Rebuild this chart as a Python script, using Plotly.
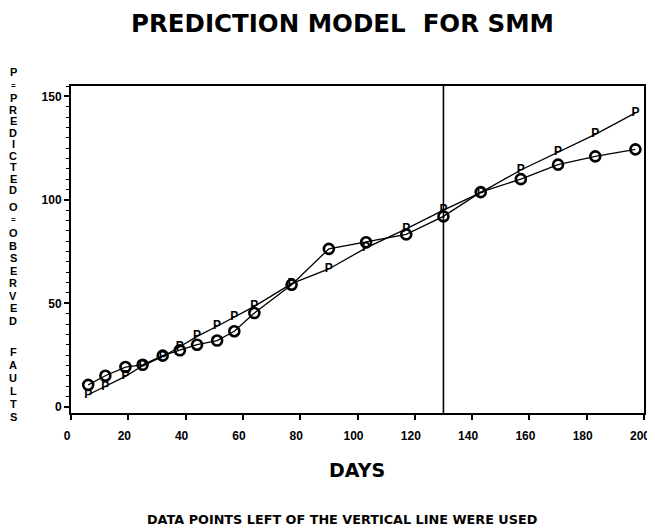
import plotly.graph_objects as go

# ---- data ----
days = [6, 12, 19, 25, 32, 38, 44, 51, 57, 64, 77, 90, 103, 117, 130, 143, 157, 170, 183, 197]
observed = [10.6, 15.0, 19.2, 20.3, 24.7, 27.3, 30.0, 32.0, 36.5, 45.3, 59.0, 76.3,
            79.5, 83.3, 92.0, 103.7, 110.0, 117.0, 121.0, 124.4]
predicted = [5.8, 9.8, 14.7, 19.8, 24.3, 29.0, 34.0, 38.9, 43.4, 48.5, 59.5, 66.6,
             76.8, 86.0, 95.0, 103.5, 114.4, 123.0, 131.6, 142.0]
cutoff_day = 130
x_ticks = list(range(0, 201, 20))
y_ticks = [0, 50, 100, 150]

title_text = "PREDICTION MODEL  FOR SMM"
x_title = "DAYS"
footnote = "DATA POINTS LEFT OF THE VERTICAL LINE WERE USED"
# stacked y-axis label: (text, page y of first letter, letter step)
ylabel_parts = [("P", 72, 0), ("=", 85, 0), ("PREDICTED", 98, 11.5),
                ("O", 207, 0), ("=", 220, 0), ("OBSERVED", 233, 12.5),
                ("FAULTS", 352, 13)]

# page is offset by the browser's default 8px body margin; visible width is 639px
OFF = 8
W, H = 639, 524
# plot frame in page pixels
PL, PR, PT, PB = 71, 644, 86, 413
L, R, T, B = PL - OFF, PR - OFF, PT - OFF, PB - OFF


def px(xpage):
    return (xpage - PL) / (PR - PL)


def py(ypage):
    return (PB - ypage) / (PB - PT)


FONT = "Liberation Sans, Arial, sans-serif"
WIDE = "DejaVu Sans, Verdana, sans-serif"

fig = go.Figure()
fig.add_trace(go.Scatter(
    x=days, y=observed, mode="lines+markers", name="O",
    line=dict(color="black", width=1.3),
    marker=dict(symbol="circle-open", size=10, color="black",
                line=dict(width=2.6, color="black")),
    showlegend=False, cliponaxis=False,
))
fig.add_trace(go.Scatter(
    x=days, y=predicted, mode="lines+text", name="P", text=["P"] * len(days),
    textposition="middle center",
    textfont=dict(family=FONT, size=12, color="black", weight="bold"),
    line=dict(color="black", width=1.3),
    showlegend=False, cliponaxis=False,
))

fig.add_shape(type="line", x0=cutoff_day, x1=cutoff_day, xref="x", yref="paper",
              y0=0, y1=1, line=dict(color="black", width=1.6))

annots = []
annots.append(dict(text=title_text, x=px(342), xref="paper", y=py(23), yref="paper",
                   xanchor="center", yanchor="middle", showarrow=False,
                   font=dict(family=WIDE, size=24.5, color="black", weight="bold")))
annots.append(dict(text=x_title, x=px(357), xref="paper", y=py(470), yref="paper",
                   xanchor="center", yanchor="middle", showarrow=False,
                   font=dict(family=WIDE, size=19, color="black", weight="bold")))
annots.append(dict(text=footnote, x=px(342), xref="paper", y=py(520), yref="paper",
                   xanchor="center", yanchor="middle", showarrow=False,
                   font=dict(family=WIDE, size=12.8, color="black", weight="bold")))

for word, y0, step in ylabel_parts:
    for i, ch in enumerate(word):
        annots.append(dict(text=ch, x=px(13), xref="paper", y=py(y0 + i * step),
                           yref="paper", xanchor="center", yanchor="middle",
                           showarrow=False,
                           font=dict(family=FONT, size=11 if ch != "=" else 8,
                                     color="black", weight="bold")))

fig.update_layout(
    width=W, height=H,
    margin=dict(l=L, r=W - R, t=T, b=H - B, autoexpand=False),
    paper_bgcolor="white", plot_bgcolor="white",
    annotations=annots,
    xaxis=dict(range=[0, 200], tickvals=x_ticks, ticks="outside", ticklen=5, tickwidth=1.5,
               tickcolor="black", showline=True, linewidth=2, linecolor="black", mirror=True,
               showgrid=False, zeroline=False, ticklabelstandoff=6, ticklabelshift=-4,
               automargin=False, ticklabeloverflow="allow",
               tickfont=dict(family=FONT, size=12, color="black", weight="bold")),
    yaxis=dict(range=[-3, 155], tickvals=y_ticks, ticks="outside", ticklen=5, tickwidth=1.5,
               tickcolor="black", showline=True, linewidth=2, linecolor="black", mirror=True,
               showgrid=False, zeroline=False, automargin=False,
               minor=dict(dtick=5, ticks="outside", ticklen=3, tickwidth=1, tickcolor="black"),
               tickfont=dict(family=FONT, size=12, color="black", weight="bold")),
)

fig.write_html("out.html")
